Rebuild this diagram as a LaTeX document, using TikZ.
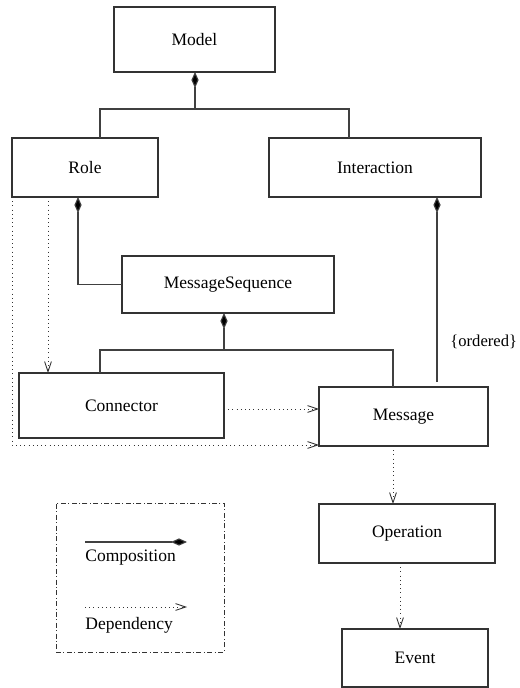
\documentclass[tikz,border=0pt]{standalone}
\usepackage{fontspec}
\newfontfamily\umlfont{LiberationSerif}[Extension=.ttf, UprightFont=*-Regular, BoldFont=*-Bold]
\usetikzlibrary{arrows.meta,calc}

\begin{document}
\begin{tikzpicture}[
  x=0.5pt, y=-0.5pt,
  every node/.style={font=\umlfont\fontsize{8.75}{10.5}\selectfont},
  cls/.style={draw=black!80, line width=0.55pt, inner sep=0pt, outer sep=0pt},
  comp/.style={draw=black!75, line width=0.55pt, -{Diamond[length=8pt,width=3.6pt,fill=black]}},
  plainline/.style={draw=black!75, line width=0.55pt},
  dep/.style={draw=black!80, line width=0.5pt, dash pattern=on 0.5pt off 1.6pt,
              -{Straight Barb[length=5pt,width=3.4pt,line width=0.45pt]}},
  legendbox/.style={draw=black!80, line width=0.5pt,
              dash pattern=on 2.5pt off 1.2pt on 0.5pt off 1.2pt,
              inner sep=0pt, outer sep=0pt}
]
\useasboundingbox (0,0) rectangle (519,688);

% classes
\node[cls, minimum width=80.5pt, minimum height=32.5pt] (Model) at (194.5,39.5) {Model};
\node[cls, minimum width=73pt, minimum height=29.5pt] (Role) at (85,167.5) {Role};
\node[cls, minimum width=106pt, minimum height=29.5pt] (Interaction) at (375,167.5) {Interaction};
\node[cls, minimum width=106pt, minimum height=28.5pt] (MessageSequence) at (228,284.5) {MessageSequence};
\node[cls, minimum width=102.5pt, minimum height=32.5pt] (Connector) at (121.5,405.5) {Connector};
\node[cls, minimum width=84.5pt, minimum height=29.5pt] (Message) at (403.5,416.5) {Message};
\node[cls, minimum width=88pt, minimum height=29.5pt] (Operation) at (407,533.5) {Operation};
\node[cls, minimum width=73pt, minimum height=29pt] (Event) at (415,658) {Event};

% Model owns Role and Interaction
\coordinate (mj) at ($(Model.south)+(0.5,37)$);
\draw[comp] (mj) -- (mj |- Model.south);
\draw[plainline] ($(Role.north)+(15,0)$) |- (mj) -| ($(Interaction.north)+(-26,0)$);

% Role owns MessageSequence
\draw[comp] (MessageSequence.west) -| ($(Role.south)+(-7,0)$);

% MessageSequence owns Connector and Message
\coordinate (sj) at ($(MessageSequence.south)+(-4,37)$);
\draw[comp] (sj) -- (sj |- MessageSequence.south);
\draw[plainline] ($(Connector.north)+(-21.5,0)$) |- (sj) -| ($(Message.north)+(-10.5,0)$);

% Interaction owns ordered Messages
\coordinate (ordl) at ($(Message.north)+(33.5,-5)$);
\draw[comp] (ordl) -- (ordl |- Interaction.south);
\node[anchor=west, inner sep=0pt, font=\umlfont\fontsize{8.3}{10}\selectfont] (ordered)
  at ($(ordl)+(13,-40)$) {\{ordered\}};

% dependencies
\coordinate (rd) at ($(Role.south)+(-37,0)$);
\draw[dep] (rd) -- (rd |- Connector.north);
\coordinate (cd) at ($(Connector.east)+(0,3.5)$);
\draw[dep] (cd) -- (cd -| Message.west);
\draw[dep] (Role.south west) |- ($(Message.south west)+(0,-1)$);
\coordinate (md) at ($(Message.south)+(-10.5,0)$);
\draw[dep] (md) -- (md |- Operation.north);
\coordinate (od) at ($(Operation.south)+(-7,0)$);
\draw[dep] (od) -- (od |- Event.north);

% legend
\node[legendbox, minimum width=84pt, minimum height=74.5pt] (legend) at (140,577.5) {};
\coordinate (lc1) at ($(legend.north west)+(29,39)$);
\coordinate (lc2) at ($(legend.north west)+(131,39)$);
\draw[comp] (lc1) -- (lc2);
\node[anchor=west, inner sep=0pt] (lcomp) at ($(lc1)+(0,16)$) {Composition};
\coordinate (ld1) at ($(legend.north west)+(29,104)$);
\coordinate (ld2) at ($(legend.north west)+(131,104)$);
\draw[dep] (ld1) -- (ld2);
\node[anchor=west, inner sep=0pt] (ldep) at ($(ld1)+(0,18)$) {Dependency};
\end{tikzpicture}
\end{document}
